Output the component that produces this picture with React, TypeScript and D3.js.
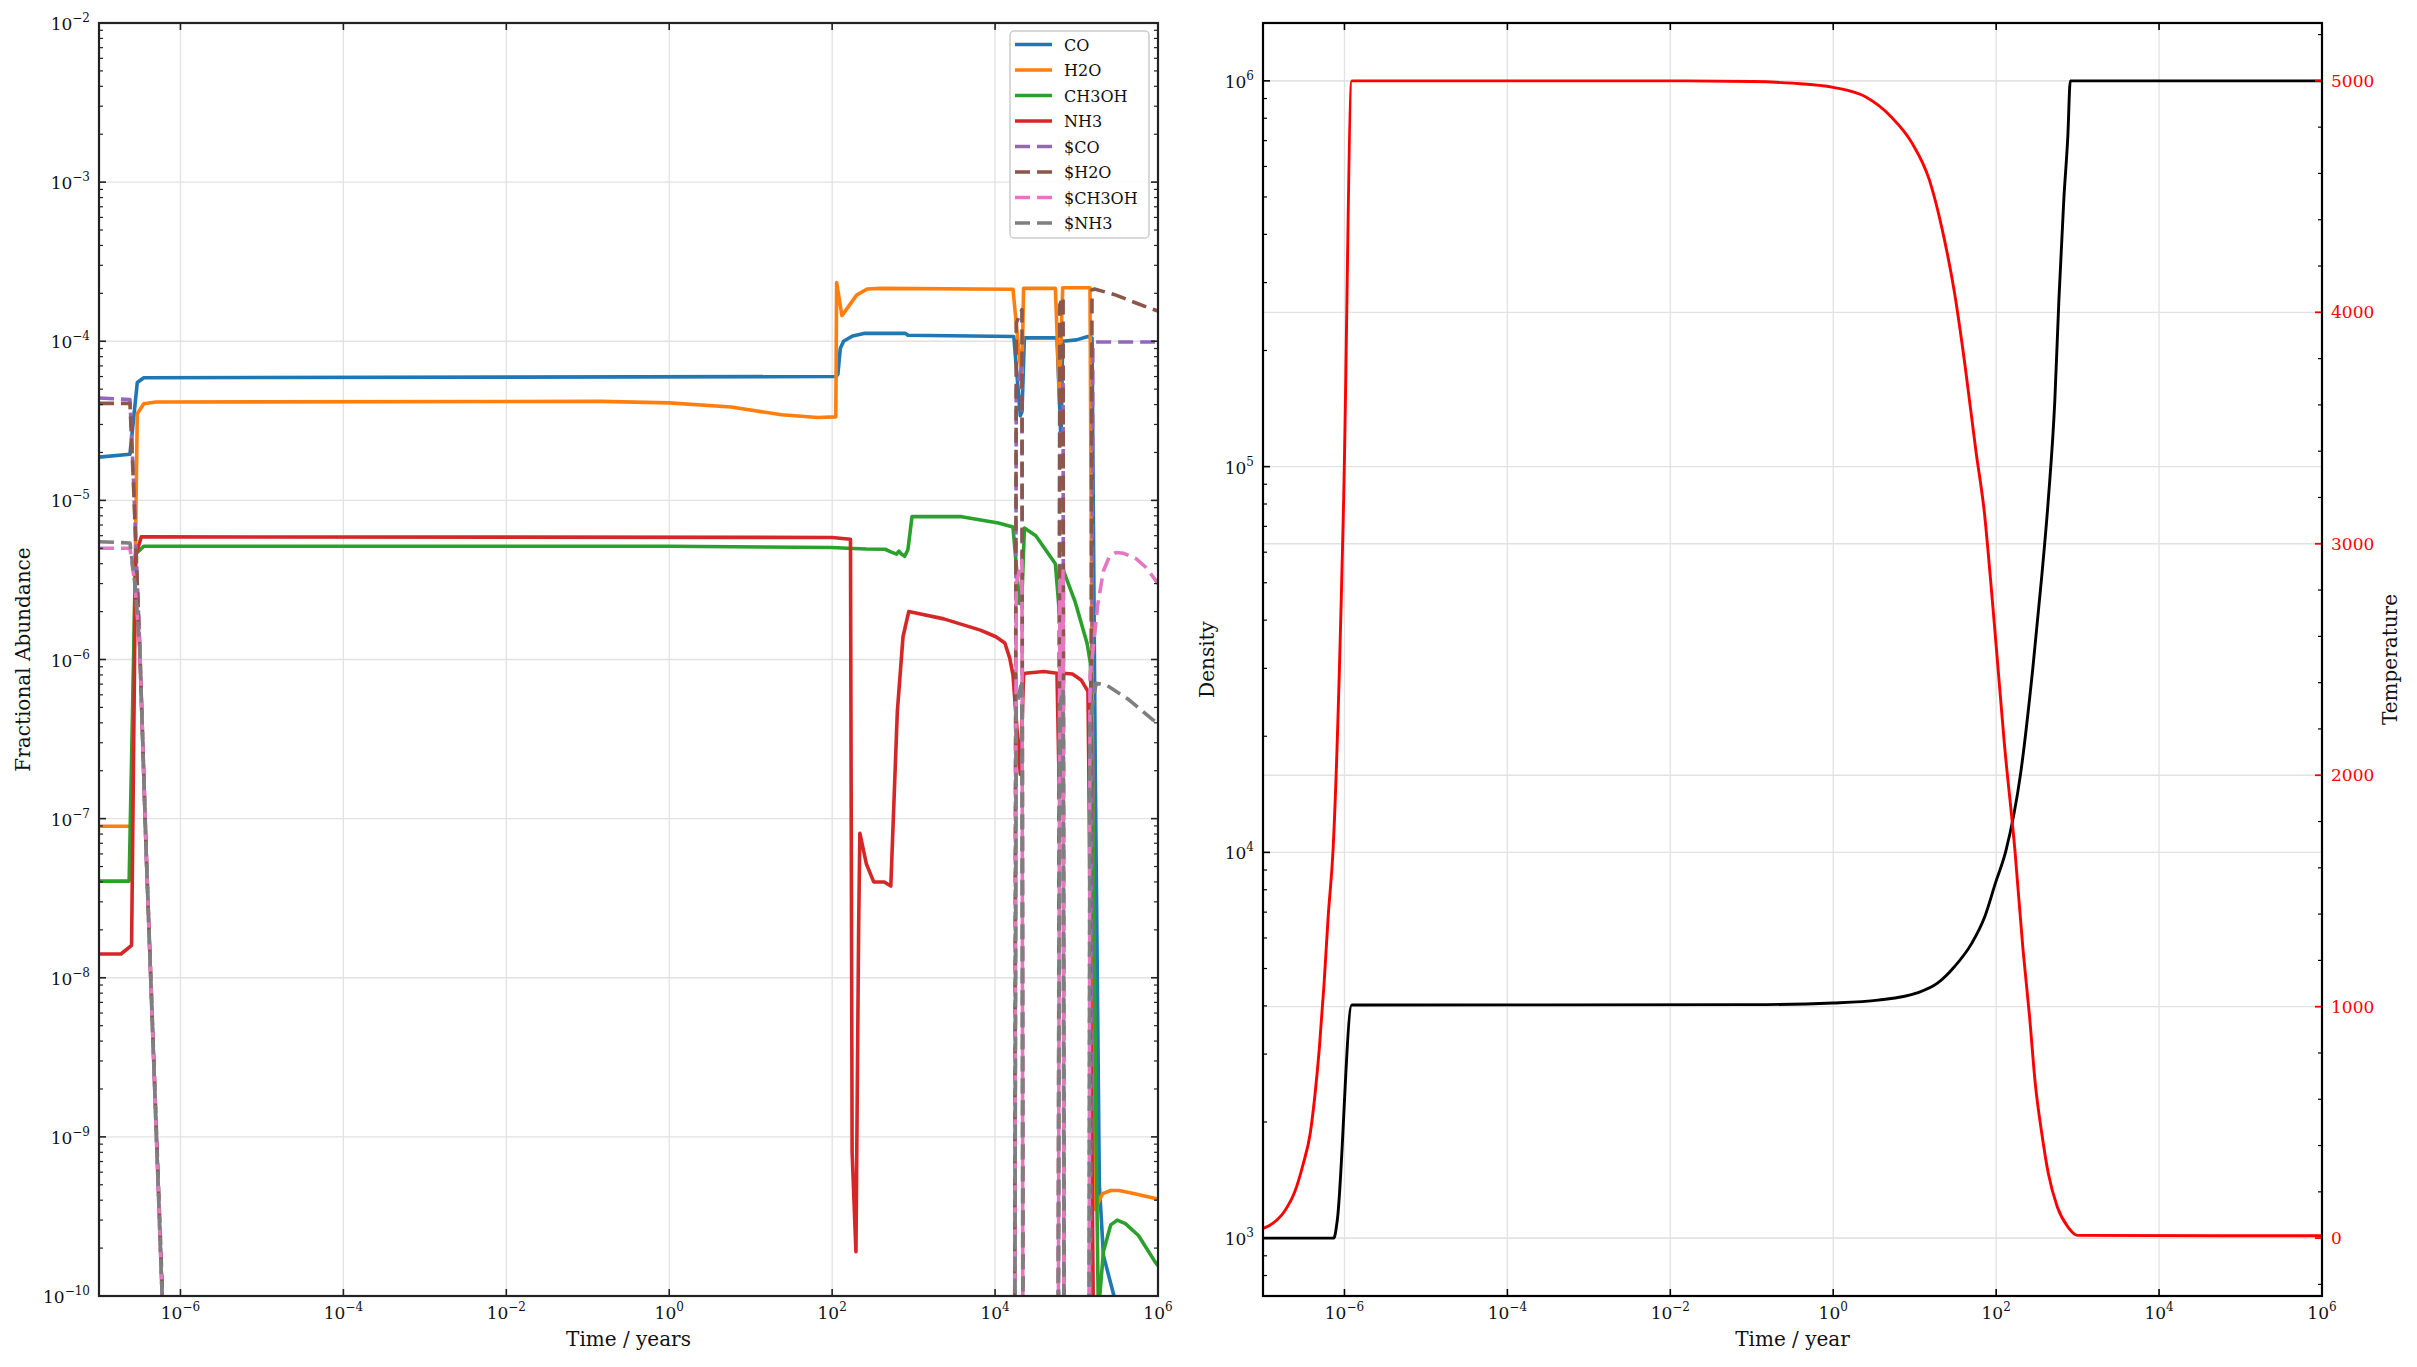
import React from "react";
import * as d3 from "d3";

type Pt = [number, number]; // [log10(time / yr), value]

// ---- gas phase abundances (left panel) ----
const coGas: Pt[] = [
  [-7, 1.87e-5], [-6.62, 1.95e-5], [-6.53, 5.5e-5], [-6.45, 5.9e-5], [2.05, 6.0e-5],
  [2.07, 6.2e-5], [2.1, 9.0e-5], [2.14, 1.0e-4], [2.25, 1.08e-4], [2.39, 1.12e-4],
  [2.9, 1.12e-4], [2.93, 1.09e-4], [4.23, 1.07e-4], [4.31, 3.4e-5], [4.33, 3.6e-5],
  [4.36, 1.05e-4], [4.76, 1.05e-4], [4.81, 2.3e-5], [4.83, 1.0e-4], [5.0, 1.02e-4],
  [5.14, 1.07e-4], [5.19, 1.05e-4], [5.23, 2e-7], [5.28, 5e-10], [5.33, 1.8e-10],
  [5.46, 1e-10], [5.6, 5e-11],
];
const h2oGas: Pt[] = [
  [-7, 8.95e-8], [-6.6, 8.95e-8], [-6.53, 3.5e-5], [-6.45, 4.05e-5], [-6.3, 4.15e-5],
  [-0.84, 4.19e-5], [0, 4.1e-5], [0.76, 3.86e-5], [1.38, 3.45e-5], [1.82, 3.32e-5],
  [2.045, 3.35e-5], [2.055, 2.34e-4], [2.12, 1.45e-4], [2.2, 1.65e-4], [2.3, 1.95e-4],
  [2.43, 2.13e-4], [2.6, 2.15e-4], [4.22, 2.12e-4], [4.31, 7e-5], [4.33, 6e-5],
  [4.35, 2.15e-4], [4.74, 2.15e-4], [4.79, 4.5e-5], [4.83, 2.17e-4], [5.165, 2.17e-4],
  [5.225, 3.5e-10], [5.32, 4.4e-10], [5.42, 4.6e-10], [5.52, 4.6e-10], [5.7, 4.4e-10],
  [5.97, 4.1e-10], [6, 4.05e-10],
];
const ch3ohGas: Pt[] = [
  [-7, 4.05e-8], [-6.63, 4.05e-8], [-6.55, 4.6e-6], [-6.45, 5.15e-6], [0, 5.15e-6],
  [1.99, 5.06e-6], [2.19, 5.0e-6], [2.42, 4.95e-6], [2.65, 4.93e-6], [2.72, 4.75e-6],
  [2.79, 4.59e-6], [2.82, 4.8e-6], [2.85, 4.6e-6], [2.89, 4.45e-6], [2.93, 4.9e-6],
  [2.98, 7.9e-6], [3.59, 7.9e-6], [4.04, 7.2e-6], [4.22, 6.8e-6], [4.3, 2.25e-6],
  [4.33, 2.5e-6], [4.36, 6.7e-6], [4.5, 6.0e-6], [4.74, 4.0e-6], [4.79, 1.95e-6],
  [4.84, 3.6e-6], [4.98, 2.33e-6], [5.13, 1.26e-6], [5.17, 9.5e-7], [5.2, 1e-7],
  [5.24, 1e-9], [5.265, 1e-10], [5.275, 5e-11], [5.285, 1e-10], [5.33, 1.9e-10],
  [5.42, 2.8e-10], [5.5, 3.0e-10], [5.6, 2.85e-10], [5.76, 2.4e-10], [5.97, 1.62e-10],
  [6, 1.55e-10],
];
const nh3Gas: Pt[] = [
  [-7, 1.41e-8], [-6.73, 1.41e-8], [-6.6, 1.6e-8], [-6.55, 4.5e-6], [-6.48, 5.9e-6],
  [2.0, 5.85e-6], [2.225, 5.7e-6], [2.245, 8e-10], [2.292, 1.9e-10], [2.325, 2e-8],
  [2.34, 8.1e-8], [2.42, 5.2e-8], [2.51, 4.0e-8], [2.64, 4.0e-8], [2.72, 3.77e-8],
  [2.8, 4.7e-7], [2.87, 1.39e-6], [2.94, 2.0e-6], [3.37, 1.8e-6], [3.82, 1.53e-6],
  [4.01, 1.39e-6], [4.12, 1.27e-6], [4.18, 1.02e-6], [4.22, 8e-7], [4.31, 1.9e-7],
  [4.35, 8e-7], [4.37, 8.2e-7], [4.6, 8.4e-7], [4.76, 8.2e-7], [4.79, 1.35e-7],
  [4.84, 8.2e-7], [4.95, 8.1e-7], [5.06, 7.4e-7], [5.14, 6.3e-7], [5.15, 2.3e-7],
  [5.205, 9e-11], [5.25, 1e-12],
];

// ---- ice abundances (dashed) ----
const coIce: Pt[] = [
  [-7, 4.4e-5], [-6.62, 4.3e-5], [-6.58, 1.5e-5], [-6.5, 1.2e-6], [-6.42, 6e-8],
  [-6.225, 1e-10], [-6.1, 1e-12], [4.235, 1e-12], [4.26, 5e-5], [4.33, 6.9e-5],
  [4.345, 1e-12], [4.77, 1e-12], [4.795, 5e-5], [4.835, 6.5e-5], [4.85, 1e-12],
  [5.16, 1e-12], [5.2, 9e-5], [5.23, 9.9e-5], [6, 9.9e-5],
];
const h2oIce: Pt[] = [
  [-7, 4.07e-5], [-6.62, 4.07e-5], [-6.58, 1.4e-5], [-6.5, 1.2e-6], [-6.42, 6e-8],
  [-6.22, 1e-10], [-6.1, 1e-12], [4.235, 1e-12], [4.26, 1.3e-4], [4.33, 1.58e-4],
  [4.345, 1e-12], [4.77, 1e-12], [4.795, 1.7e-4], [4.835, 1.9e-4], [4.85, 1e-12],
  [5.15, 1e-12], [5.19, 2.1e-4], [5.22, 2.13e-4], [5.46, 1.97e-4], [5.73, 1.74e-4],
  [5.93, 1.59e-4], [6, 1.55e-4],
];
const ch3ohIce: Pt[] = [
  [-7, 5.0e-6], [-6.62, 5.0e-6], [-6.56, 3e-6], [-6.5, 1.2e-6], [-6.42, 6e-8],
  [-6.225, 1e-10], [-6.1, 1e-12], [4.235, 1e-12], [4.26, 3e-6], [4.33, 4.2e-6],
  [4.345, 1e-12], [4.77, 1e-12], [4.795, 3e-6], [4.835, 3.6e-6], [4.85, 1e-12],
  [5.15, 1e-12], [5.165, 8e-7], [5.19, 1.0e-6], [5.26, 2.2e-6], [5.33, 3.6e-6],
  [5.4, 4.4e-6], [5.48, 4.7e-6], [5.58, 4.65e-6], [5.73, 4.3e-6], [5.85, 3.8e-6],
  [5.96, 3.2e-6], [6, 3.0e-6],
];
const nh3Ice: Pt[] = [
  [-7, 5.5e-6], [-6.62, 5.4e-6], [-6.56, 3e-6], [-6.5, 1.2e-6], [-6.42, 6e-8],
  [-6.225, 1e-10], [-6.1, 1e-12], [4.235, 1e-12], [4.26, 5e-7], [4.33, 7.4e-7],
  [4.345, 1e-12], [4.77, 1e-12], [4.795, 5e-7], [4.835, 6.5e-7], [4.85, 1e-12],
  [5.145, 1e-12], [5.165, 4e-7], [5.24, 7.1e-7], [5.37, 6.9e-7], [5.64, 5.6e-7],
  [5.93, 4.2e-7], [6, 4.0e-7],
];

// ---- physical conditions (right panel) ----
const density: Pt[] = [
  [-7, 1000], [-6.13, 1000], [-6.09, 1104], [-5.91, 4020], [-1, 4030], [0, 4070],
  [0.55, 4140], [1.02, 4315], [1.28, 4580], [1.49, 5060], [1.7, 5810], [1.86, 6810],
  [1.99, 8310], [2.12, 1.01e4], [2.3, 1.6e4], [2.45, 3.0e4], [2.56, 5.2e4], [2.64, 8.2e4],
  [2.72, 1.48e5], [2.77, 2.7e5], [2.83, 4.9e5], [2.88, 7.2e5], [2.91, 1e6], [6, 1e6],
];
const temperature: Pt[] = [
  [-7, 42], [-6.91, 57], [-6.74, 114], [-6.61, 200], [-6.51, 316], [-6.42, 453],
  [-6.36, 626], [-6.31, 813], [-6.25, 1101], [-6.2, 1389], [-6.14, 1677], [-6.01, 3189],
  [-5.91, 5000], [-2, 5000], [-1, 4997], [-0.5, 4990], [0, 4972], [0.39, 4932],
  [0.71, 4845], [0.97, 4730], [1.18, 4572], [1.33, 4370], [1.49, 4082], [1.62, 3765],
  [1.75, 3405], [1.86, 3120], [1.93, 2850], [2.0, 2560], [2.1, 2140], [2.23, 1677],
  [2.33, 1245], [2.41, 957], [2.48, 669], [2.56, 453], [2.64, 280], [2.75, 136],
  [2.88, 49], [3.0, 12], [6, 10],
];

const speciesNames = ["CO", "H2O", "CH3OH", "NH3", "$CO", "$H2O", "$CH3OH", "$NH3"];
const speciesColors = ["#1f77b4", "#ff7f0e", "#2ca02c", "#d62728", "#9467bd", "#8c564b", "#e377c2", "#7f7f7f"];
const speciesData = [coGas, h2oGas, ch3ohGas, nh3Gas, coIce, h2oIce, ch3ohIce, nh3Ice];

const timeExps = [-6, -4, -2, 0, 2, 4, 6];
const abundExps = [-10, -9, -8, -7, -6, -5, -4, -3, -2];
const densExps = [3, 4, 5, 6];
const tempTicks = [0, 1000, 2000, 3000, 4000, 5000];

const W = 2417;
const H = 1367;
const FONT = "DejaVu Serif";
const GRID = "#e2e2e2";

const L = { x0: 99, x1: 1158, y0: 23, y1: 1296 };
const R = { x0: 1263, x1: 2322, y0: 23, y1: 1296 };

const xL = d3.scaleLog().domain([1e-7, 1e6]).range([L.x0, L.x1]);
const yL = d3.scaleLog().domain([1e-10, 1e-2]).range([L.y1, L.y0]);
const xR = d3.scaleLog().domain([1e-7, 1e6]).range([R.x0, R.x1]);
const yD = d3.scaleLog().domain([Math.pow(10, 2.85), Math.pow(10, 6.15)]).range([R.y1, R.y0]);
const yT = d3.scaleLinear().domain([-250, 5250]).range([R.y1, R.y0]);

const pathOf = (x: any, y: any, pts: Pt[], smooth = false) =>
  d3
    .line<Pt>()
    .x((d) => x(Math.pow(10, d[0])))
    .y((d) => y(d[1]))
    .curve(smooth ? d3.curveMonotoneX : d3.curveLinear)(pts) || "";

const minorLog = (scale: any) => {
  const [a, b] = scale.domain();
  const out: number[] = [];
  for (let e = Math.floor(Math.log10(a)); e <= Math.ceil(Math.log10(b)); e++) {
    for (let k = 2; k <= 9; k++) {
      const v = k * Math.pow(10, e);
      if (v >= a && v <= b) out.push(v);
    }
  }
  return out;
};

const expText = (e: number) => (e < 0 ? "\u2212" + Math.abs(e) : String(e));

function PowLabel({ x, y, e, anchor }: { x: number; y: number; e: number; anchor: string }) {
  return (
    <text x={x} y={y} textAnchor={anchor as any} fontFamily={FONT} fontSize={17} fill="#111">
      10
      <tspan dy={-8} fontSize={12}>{expText(e)}</tspan>
    </text>
  );
}

function LeftPanel() {
  const minorY = minorLog(yL);
  return (
    <g>
      <defs>
        <clipPath id="clipL">
          <rect x={L.x0} y={L.y0} width={L.x1 - L.x0} height={L.y1 - L.y0} />
        </clipPath>
      </defs>
      {/* grid */}
      {timeExps.map((e) => (
        <line key={"gx" + e} x1={xL(Math.pow(10, e))} x2={xL(Math.pow(10, e))} y1={L.y0} y2={L.y1} stroke={GRID} strokeWidth={1.3} />
      ))}
      {abundExps.map((e) => (
        <line key={"gy" + e} x1={L.x0} x2={L.x1} y1={yL(Math.pow(10, e))} y2={yL(Math.pow(10, e))} stroke={GRID} strokeWidth={1.3} />
      ))}
      {/* series */}
      <g clipPath="url(#clipL)">
        {speciesData.map((pts, i) => (
          <path
            key={speciesNames[i]}
            d={pathOf(xL, yL, pts)}
            fill="none"
            stroke={speciesColors[i]}
            strokeWidth={3.6}
            strokeDasharray={i >= 4 ? "15 7" : undefined}
            strokeLinejoin="round"
          />
        ))}
      </g>
      {/* ticks */}
      {abundExps.map((e) => {
        const y = yL(Math.pow(10, e));
        return (
          <g key={"ty" + e}>
            <line x1={L.x0} x2={L.x0 + 7} y1={y} y2={y} stroke="#222" strokeWidth={1.6} />
            <line x1={L.x1} x2={L.x1 - 7} y1={y} y2={y} stroke="#222" strokeWidth={1.6} />
            <PowLabel x={L.x0 - 9} y={y + 7} e={e} anchor="end" />
          </g>
        );
      })}
      {minorY.map((v, i) => (
        <g key={"my" + i}>
          <line x1={L.x0} x2={L.x0 + 4} y1={yL(v)} y2={yL(v)} stroke="#222" strokeWidth={1.2} />
          <line x1={L.x1} x2={L.x1 - 4} y1={yL(v)} y2={yL(v)} stroke="#222" strokeWidth={1.2} />
        </g>
      ))}
      {timeExps.map((e) => {
        const x = xL(Math.pow(10, e));
        return (
          <g key={"tx" + e}>
            <line x1={x} x2={x} y1={L.y1} y2={L.y1 - 7} stroke="#222" strokeWidth={1.6} />
            <line x1={x} x2={x} y1={L.y0} y2={L.y0 + 7} stroke="#222" strokeWidth={1.6} />
            <PowLabel x={x} y={L.y1 + 23} e={e} anchor="middle" />
          </g>
        );
      })}
      <rect x={L.x0} y={L.y0} width={L.x1 - L.x0} height={L.y1 - L.y0} fill="none" stroke="#222" strokeWidth={2.2} />
      {/* legend */}
      <g>
        <rect x={1010} y={31} width={139} height={207} rx={4} fill="#fff" fillOpacity={0.85} stroke="#cccccc" strokeWidth={1.5} />
        {speciesNames.map((name, i) => {
          const cy = 44.5 + i * 25.5;
          return (
            <g key={"lg" + name}>
              <line x1={1015} x2={1052} y1={cy} y2={cy} stroke={speciesColors[i]} strokeWidth={3.6} strokeDasharray={i >= 4 ? "15 7" : undefined} />
              <text x={1064} y={cy + 6} fontFamily={FONT} fontSize={16} fill="#111">{name}</text>
            </g>
          );
        })}
      </g>
      <text x={(L.x0 + L.x1) / 2} y={1346} textAnchor="middle" fontFamily={FONT} fontSize={20} fill="#111">Time / years</text>
      <text transform={`translate(30,${(L.y0 + L.y1) / 2}) rotate(-90)`} textAnchor="middle" fontFamily={FONT} fontSize={20} fill="#111">Fractional Abundance</text>
    </g>
  );
}

function RightPanel() {
  const minorD = minorLog(yD);
  const minorT = d3.range(-200, 5201, 200).filter((v) => v % 1000 !== 0);
  return (
    <g>
      <defs>
        <clipPath id="clipR">
          <rect x={R.x0} y={R.y0} width={R.x1 - R.x0} height={R.y1 - R.y0} />
        </clipPath>
      </defs>
      {timeExps.map((e) => (
        <line key={"gx" + e} x1={xR(Math.pow(10, e))} x2={xR(Math.pow(10, e))} y1={R.y0} y2={R.y1} stroke={GRID} strokeWidth={1.3} />
      ))}
      {densExps.map((e) => (
        <line key={"gd" + e} x1={R.x0} x2={R.x1} y1={yD(Math.pow(10, e))} y2={yD(Math.pow(10, e))} stroke={GRID} strokeWidth={1.3} />
      ))}
      {tempTicks.map((t) => (
        <line key={"gt" + t} x1={R.x0} x2={R.x1} y1={yT(t)} y2={yT(t)} stroke={GRID} strokeWidth={1.3} />
      ))}
      <g clipPath="url(#clipR)">
        <path d={pathOf(xR, yD, density, true)} fill="none" stroke="#000" strokeWidth={2.9} strokeLinejoin="round" />
        <path d={pathOf(xR, yT, temperature, true)} fill="none" stroke="#ff0000" strokeWidth={2.9} strokeLinejoin="round" />
      </g>
      {densExps.map((e) => {
        const y = yD(Math.pow(10, e));
        return (
          <g key={"td" + e}>
            <line x1={R.x0} x2={R.x0 + 7} y1={y} y2={y} stroke="#000" strokeWidth={1.6} />
            <PowLabel x={R.x0 - 9} y={y + 7} e={e} anchor="end" />
          </g>
        );
      })}
      {minorD.map((v, i) => (
        <line key={"md" + i} x1={R.x0} x2={R.x0 + 4} y1={yD(v)} y2={yD(v)} stroke="#000" strokeWidth={1.2} />
      ))}
      {tempTicks.map((t) => (
        <g key={"tt" + t}>
          <line x1={R.x1} x2={R.x1 - 7} y1={yT(t)} y2={yT(t)} stroke="#ff0000" strokeWidth={1.8} />
          <text x={R.x1 + 9} y={yT(t) + 6} fontFamily={FONT} fontSize={17} fill="#ff0000">{t}</text>
        </g>
      ))}
      {minorT.map((t) => (
        <line key={"mt" + t} x1={R.x1} x2={R.x1 - 4} y1={yT(t)} y2={yT(t)} stroke="#000" strokeWidth={1.2} />
      ))}
      {timeExps.map((e) => {
        const x = xR(Math.pow(10, e));
        return (
          <g key={"tx" + e}>
            <line x1={x} x2={x} y1={R.y1} y2={R.y1 - 7} stroke="#000" strokeWidth={1.6} />
            <line x1={x} x2={x} y1={R.y0} y2={R.y0 + 7} stroke="#000" strokeWidth={1.6} />
            <PowLabel x={x} y={R.y1 + 23} e={e} anchor="middle" />
          </g>
        );
      })}
      <rect x={R.x0} y={R.y0} width={R.x1 - R.x0} height={R.y1 - R.y0} fill="none" stroke="#000" strokeWidth={2.2} />
      <text x={(R.x0 + R.x1) / 2} y={1346} textAnchor="middle" fontFamily={FONT} fontSize={20} fill="#111">Time / year</text>
      <text transform={`translate(1214,${(R.y0 + R.y1) / 2}) rotate(-90)`} textAnchor="middle" fontFamily={FONT} fontSize={20} fill="#111">Density</text>
      <text transform={`translate(2397,${(R.y0 + R.y1) / 2}) rotate(-90)`} textAnchor="middle" fontFamily={FONT} fontSize={20} fill="#111">Temperature</text>
    </g>
  );
}

export default function App() {
  return (
    <svg
      width={W}
      height={H}
      viewBox={`0 0 ${W} ${H}`}
      style={{ position: "absolute", left: 0, top: 0, background: "#fff" }}
    >
      <rect x={0} y={0} width={W} height={H} fill="#fff" />
      <LeftPanel />
      <RightPanel />
    </svg>
  );
}
